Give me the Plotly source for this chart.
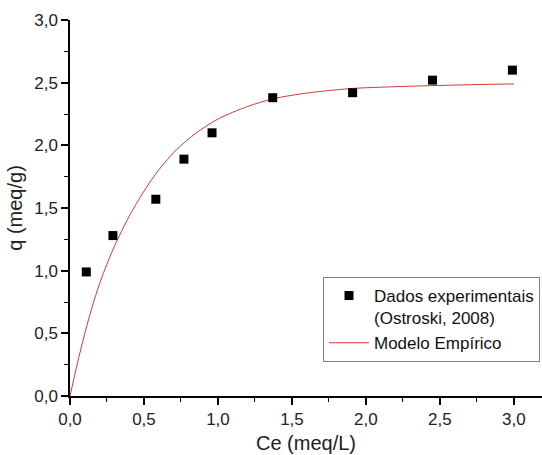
import plotly.graph_objects as go

# Experimental data (Ostroski, 2008)
ce_exp = [0.11, 0.29, 0.58, 0.77, 0.96, 1.37, 1.91, 2.45, 2.99]
q_exp = [0.99, 1.28, 1.57, 1.89, 2.10, 2.38, 2.42, 2.52, 2.60]

ce_mod = [0.0, 0.05, 0.10, 0.16, 0.22, 0.30, 0.40, 0.50, 0.60, 0.72, 0.85, 1.0,
          1.2, 1.38, 1.6, 1.9, 2.2, 2.5, 2.8, 3.0]
q_mod = [0.0, 0.26, 0.50, 0.752, 0.962, 1.194, 1.434, 1.634, 1.804, 1.966, 2.096, 2.21,
         2.31, 2.373, 2.417, 2.453, 2.468, 2.478, 2.486, 2.49]

x_ticks = [0.0, 0.5, 1.0, 1.5, 2.0, 2.5, 3.0]
x_labels = ["0,0", "0,5", "1,0", "1,5", "2,0", "2,5", "3,0"]
y_ticks = [0.0, 0.5, 1.0, 1.5, 2.0, 2.5, 3.0]
y_labels = ["0,0", "0,5", "1,0", "1,5", "2,0", "2,5", "3,0"]

FONT = "Arial, Liberation Sans, sans-serif"

fig = go.Figure()
fig.add_trace(go.Scatter(
    x=ce_mod, y=q_mod, mode="lines", name="Modelo Empírico",
    line=dict(color="#d03838", width=1, shape="spline", smoothing=0.8),
    legendrank=2,
))
fig.add_trace(go.Scatter(
    x=ce_exp, y=q_exp, mode="markers",
    name="Dados experimentais<br>(Ostroski, 2008)",
    marker=dict(symbol="square", size=9, color="black"),
    legendrank=1,
))

axis_common = dict(
    showgrid=False, zeroline=False, showline=True, linecolor="black", linewidth=1.5,
    ticks="outside", ticklen=7, tickwidth=1.5, tickcolor="black",
    tickfont=dict(family=FONT, size=17, color="#222"),
    minor=dict(ticks="outside", ticklen=4, tickwidth=1, tickcolor="black"),
    mirror=False, automargin=False,
)

fig.update_xaxes(
    range=[0, 3.19], tickvals=x_ticks, ticktext=x_labels,
    minor_dtick=0.25,
    title=dict(text="Ce (meq/L)", font=dict(family=FONT, size=20, color="#222"), standoff=8),
    **axis_common,
)
fig.update_yaxes(
    range=[0, 3.0], tickvals=y_ticks, ticktext=y_labels,
    minor_dtick=0.25,
    title=dict(text="q (meq/g)", font=dict(family=FONT, size=20, color="#222"), standoff=6),
    **axis_common,
)

fig.update_layout(
    width=542, height=455,
    margin=dict(l=70, r=0, t=20, b=59, autoexpand=False),
    plot_bgcolor="white", paper_bgcolor="white",
    showlegend=True,
    legend=dict(
        x=0.536, y=0.3165, xanchor="left", yanchor="top",
        bgcolor="white", bordercolor="#808080", borderwidth=1,
        font=dict(family=FONT, size=17, color="#111"),
        valign="top", itemwidth=40, tracegroupgap=0,
    ),
)

fig.write_html("out.html")
